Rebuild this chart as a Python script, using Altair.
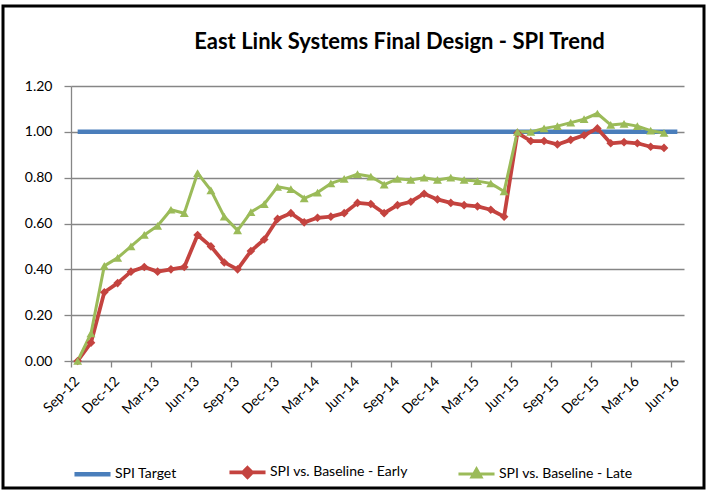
import json
import altair as alt
import pandas as pd

# ---- data ----
tick_labels = ["Sep-12", "Dec-12", "Mar-13", "Jun-13", "Sep-13", "Dec-13", "Mar-14", "Jun-14",
               "Sep-14", "Dec-14", "Mar-15", "Jun-15", "Sep-15", "Dec-15", "Mar-16", "Jun-16"]
series_names = ["SPI Target", "SPI vs. Baseline - Early", "SPI vs. Baseline - Late"]
colors = ["#4a7ebb", "#c4433f", "#9bbb59"]

# monthly values, Sep-12 .. Jun-16 (target) / Sep-12 .. May-16 (early, late)
spi_target = [1.00, 1.00, 1.00, 1.00, 1.00, 1.00, 1.00, 1.00, 1.00, 1.00, 1.00, 1.00,
              1.00, 1.00, 1.00, 1.00, 1.00, 1.00, 1.00, 1.00, 1.00, 1.00, 1.00, 1.00,
              1.00, 1.00, 1.00, 1.00, 1.00, 1.00, 1.00, 1.00, 1.00, 1.00, 1.00, 1.00,
              1.00, 1.00, 1.00, 1.00, 1.00, 1.00, 1.00, 1.00, 1.00, 1.00]
spi_early = [0.00, 0.08, 0.30, 0.34, 0.39, 0.41, 0.39, 0.40, 0.41, 0.55, 0.50, 0.43,
             0.40, 0.48, 0.53, 0.62, 0.645, 0.605, 0.625, 0.63, 0.645, 0.69, 0.685, 0.645,
             0.68, 0.695, 0.73, 0.705, 0.69, 0.68, 0.675, 0.66, 0.63, 0.995, 0.96, 0.96,
             0.945, 0.965, 0.985, 1.015, 0.95, 0.955, 0.95, 0.935, 0.93]
spi_late = [0.00, 0.12, 0.415, 0.45, 0.50, 0.55, 0.59, 0.66, 0.645, 0.82, 0.745, 0.63,
            0.57, 0.65, 0.685, 0.76, 0.75, 0.71, 0.735, 0.775, 0.795, 0.815, 0.805, 0.77,
            0.795, 0.79, 0.80, 0.79, 0.80, 0.79, 0.785, 0.775, 0.74, 1.00, 1.00, 1.015,
            1.025, 1.04, 1.055, 1.08, 1.03, 1.035, 1.025, 1.005, 0.995]

rows = []
for name, vals in zip(series_names, [spi_target, spi_early, spi_late]):
    for i, v in enumerate(vals):
        rows.append({"month": i, "value": v, "series": name})
df = pd.DataFrame(rows)

legend_paths = [
    "M-1,0L1,0",
    "M-1,0L1,0M0,-0.25L0.25,0L0,0.25L-0.25,0Z",
    "M-1,0L1,0M0,-0.28L0.25,0.16L-0.25,0.16Z",
]

FONT = "Lato"
GRID = "#868686"

label_expr = json.dumps(tick_labels) + "[round((datum.value + 0.5) / 3)]"

x = alt.X("month:Q",
          scale=alt.Scale(domain=[-0.5, 45.5], nice=False, zero=False),
          axis=alt.Axis(values=[3 * k - 0.5 for k in range(16)], labelExpr=label_expr,
                        labelAngle=-45, labelAlign="right", labelBaseline="middle",
                        labelOffset=6, labelPadding=12, tickSize=6, grid=False,
                        labelOverlap=False, labelBound=False, labelFlush=False,
                        labelFont=FONT, labelFontSize=14, labelColor="black",
                        domainColor=GRID, tickColor=GRID, domainWidth=1.3, tickWidth=1.3,
                        title=None))
y = alt.Y("value:Q",
          scale=alt.Scale(domain=[0, 1.2], nice=False, zero=True),
          axis=alt.Axis(values=[0, 0.2, 0.4, 0.6, 0.8, 1.0, 1.2], format=".2f",
                        tickSize=7, labelPadding=12, labelFont=FONT, labelFontSize=14,
                        labelColor="black", gridColor=GRID, gridWidth=1.3,
                        domainColor=GRID, tickColor=GRID, domainWidth=1.3, tickWidth=1.3,
                        title=None))

leg = alt.Legend(title=None, orient="none", legendX=1, legendY=366, direction="horizontal",
                 columns=3, symbolSize=1300, symbolStrokeWidth=3, symbolOpacity=1,
                 labelFont=FONT, labelFontSize=14, labelColor="black", labelOffset=2,
                 columnPadding=44)

stroke_scale = alt.Scale(domain=series_names, range=colors)

lines = alt.Chart(df).mark_line(strokeJoin="round").encode(
    x=x, y=y,
    stroke=alt.Stroke("series:N", scale=stroke_scale, legend=leg),
    strokeWidth=alt.StrokeWidth("series:N",
                                scale=alt.Scale(domain=series_names, range=[4.5, 3, 3]),
                                legend=None),
)

early_pts = alt.Chart(df).transform_filter(
    alt.datum.series == series_names[1]
).mark_point(shape="diamond", filled=True, size=75, color=colors[1], opacity=1).encode(x=x, y=y)

late_pts = alt.Chart(df).transform_filter(
    alt.datum.series == series_names[2]
).mark_point(shape="triangle-up", filled=True, size=80, color=colors[2], opacity=1).encode(x=x, y=y)

legend_layer = alt.Chart(df).transform_filter("false").mark_point(filled=True).encode(
    x=x, y=y,
    fill=alt.Fill("series:N", scale=alt.Scale(domain=series_names, range=colors), legend=leg),
    stroke=alt.Stroke("series:N", scale=stroke_scale, legend=leg),
    shape=alt.Shape("series:N", scale=alt.Scale(domain=series_names, range=legend_paths),
                    legend=leg),
)

frame = alt.Chart(pd.DataFrame({"f": [0]})).mark_rect(
    filled=False, stroke="black", strokeWidth=3
).encode(x=alt.value(-68), x2=alt.value(633), y=alt.value(-80), y2=alt.value(402))

chart = alt.layer(lines, early_pts, late_pts, legend_layer, frame).properties(
    width=613, height=275,
    autosize=alt.AutoSizeParams(type="none"),
    padding={"left": 71, "top": 86, "right": 29, "bottom": 134},
    title=alt.Title("East Link Systems Final Design - SPI Trend", font=FONT, fontSize=22,
                    fontWeight="bold", color="black", anchor="middle", dx=22, offset=-71,
                    frame="group", baseline="bottom"),
    background="white",
).configure_view(stroke=None)

chart.save("out.html", embed_options={"renderer": "svg", "actions": False})
